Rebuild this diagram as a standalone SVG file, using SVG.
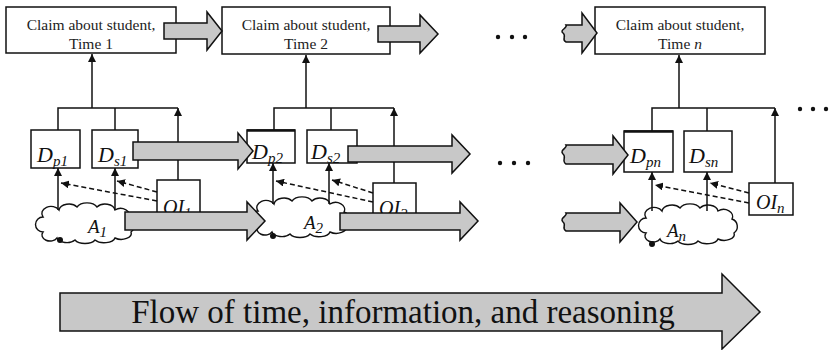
<svg xmlns="http://www.w3.org/2000/svg" width="830" height="350" viewBox="0 0 830 350">
<style>
.box{fill:#fff;stroke:#111;stroke-width:1.5}
.cl{font-family:'Liberation Serif','Times New Roman',Tinos,'DejaVu Serif','Noto Serif',serif;font-size:15.5px;fill:#222;text-anchor:middle}
.d{font-family:'Liberation Serif','Times New Roman',Tinos,'DejaVu Serif','Noto Serif',serif;font-style:italic;font-size:22px;fill:#111}
.sub{font-size:15px}
.oi{font-family:'Liberation Serif','Times New Roman',Tinos,'DejaVu Serif','Noto Serif',serif;font-style:italic;font-size:20px;fill:#111}
.a{font-family:'Liberation Serif','Times New Roman',Tinos,'DejaVu Serif','Noto Serif',serif;font-style:italic;font-size:19px;fill:#111}
.cloud{fill:#fff;stroke:#111;stroke-width:1.4}
.ln{fill:none;stroke:#111;stroke-width:1.5}
.dash{fill:none;stroke:#111;stroke-width:1.5;stroke-dasharray:5 3}
.blk{fill:#c8c8c8;stroke:#111;stroke-width:1.5;stroke-linejoin:miter}
.dot{fill:#111}
.flow{font-family:'Liberation Serif','Times New Roman',Tinos,'DejaVu Serif','Noto Serif',serif;font-size:33px;fill:#111;text-anchor:middle}
</style>
<defs>
<marker id="ah" viewBox="0 0 10 10" refX="10" refY="5" markerWidth="8" markerHeight="8" markerUnits="userSpaceOnUse" orient="auto"><path d="M0,0L10,5L0,10z" fill="#111"/></marker>
<path id="cloudp" d="M10 12 a9 7 0 0 1 16 -7 a10 7 0 0 1 18 -3 a11 7 0 0 1 20 0 a10 7 0 0 1 18 3 a9 7 0 0 1 14 8 a8 8 0 0 1 2 14 a10 6 0 0 1 -16 6 a11 6 0 0 1 -20 2 a11 6 0 0 1 -20 0 a10 6 0 0 1 -18 -2 a8 6 0 0 1 -14 -6 a7 7 0 0 1 0 -15 z"/>
</defs>

<g id="claim1"><rect class="box" x="6" y="7" width="170" height="46"/><text class="cl" x="91" y="30">Claim about student,</text><text class="cl" x="91" y="49">Time 1</text></g>
<g id="claim2"><rect class="box" x="222" y="7" width="168" height="47"/><text class="cl" x="306" y="30">Claim about student,</text><text class="cl" x="306" y="49">Time 2</text></g>
<g id="claimn"><rect class="box" x="595" y="7" width="170" height="47"/><text class="cl" x="680" y="30">Claim about student,</text><text class="cl" x="680" y="49">Time <tspan font-style="italic">n</tspan></text></g>

<g id="dp1"><rect class="box" x="31" y="130" width="49" height="38"/><text class="d" x="37" y="162">D<tspan class="sub" dy="4">p1</tspan></text></g>
<g id="ds1"><rect class="box" x="92" y="130" width="46" height="38"/><text class="d" x="98" y="162">D<tspan class="sub" dy="4">s1</tspan></text></g>
<g id="oi1"><rect class="box" x="157" y="180" width="43" height="40"/><text class="oi" x="163" y="214">OI<tspan class="sub" dy="4">1</tspan></text></g>
<g id="a1"><use href="#cloudp" class="cloud" transform="translate(33,205)"/><text class="a" x="88" y="233">A<tspan class="sub" dy="4">1</tspan></text><circle class="dot" cx="60" cy="240" r="3"/></g>

<g id="dp2"><rect class="box" x="247" y="130" width="48" height="33"/><line x1="247" y1="130.5" x2="295" y2="130.5" stroke="#111" stroke-width="2.5"/><text class="d" x="252" y="159">D<tspan class="sub" dy="4">p2</tspan></text></g>
<g id="ds2"><rect class="box" x="307" y="130" width="50" height="33"/><text class="d" x="311" y="159">D<tspan class="sub" dy="4">s2</tspan></text></g>
<g id="oi2"><rect class="box" x="373" y="183" width="43" height="37"/><text class="oi" x="379" y="215">OI<tspan class="sub" dy="4">2</tspan></text></g>
<g id="a2"><use href="#cloudp" class="cloud" transform="translate(248,199)"/><text class="a" x="304" y="229">A<tspan class="sub" dy="4">2</tspan></text><circle class="dot" cx="273" cy="236" r="3"/></g>

<g id="dpn"><rect class="box" x="624" y="131" width="49" height="41"/><line x1="624" y1="131.5" x2="673" y2="131.5" stroke="#111" stroke-width="2.5"/><text class="d" x="630" y="163">D<tspan class="sub" dy="4">pn</tspan></text></g>
<g id="dsn"><rect class="box" x="684" y="131" width="48" height="41"/><text class="d" x="689" y="163">D<tspan class="sub" dy="4">sn</tspan></text></g>
<g id="oin"><rect class="box" x="749" y="183" width="44" height="32"/><text class="oi" x="756" y="209">OI<tspan class="sub" dy="4">n</tspan></text></g>
<g id="an"><use href="#cloudp" class="cloud" transform="translate(636,206)"/><text class="a" x="667" y="237">A<tspan class="sub" dy="4">n</tspan></text><circle class="dot" cx="652" cy="244" r="3"/></g>

<g id="ellipses">
<circle class="dot" cx="498" cy="37" r="2.2"/><circle class="dot" cx="512" cy="37" r="2.2"/><circle class="dot" cx="525" cy="37" r="2.2"/>
<circle class="dot" cx="500" cy="163" r="2.2"/><circle class="dot" cx="514" cy="163" r="2.2"/><circle class="dot" cx="528" cy="163" r="2.2"/>
<circle class="dot" cx="800" cy="109" r="2.2"/><circle class="dot" cx="813" cy="109" r="2.2"/><circle class="dot" cx="826" cy="109" r="2.2"/>
</g>

<g id="connectors">
<line class="ln" x1="92" y1="108" x2="92" y2="54" marker-end="url(#ah)"/>
<polyline class="ln" points="58,130 58,108 178,108"/>
<line class="ln" x1="115" y1="108" x2="115" y2="130"/>
<line class="ln" x1="178" y1="180" x2="178" y2="108" marker-end="url(#ah)"/>
<line class="ln" x1="58" y1="210" x2="58" y2="168" marker-end="url(#ah)"/>
<line class="ln" x1="115" y1="210" x2="115" y2="168" marker-end="url(#ah)"/>
<line class="dash" x1="157" y1="192" x2="117" y2="181" marker-end="url(#ah)"/>
<line class="dash" x1="157" y1="201" x2="61" y2="183" marker-end="url(#ah)"/>

<line class="ln" x1="306" y1="108" x2="306" y2="55" marker-end="url(#ah)"/>
<polyline class="ln" points="274,130 274,108 394,108"/>
<line class="ln" x1="331" y1="108" x2="331" y2="130"/>
<line class="ln" x1="394" y1="183" x2="394" y2="108" marker-end="url(#ah)"/>
<line class="ln" x1="273" y1="204" x2="273" y2="163" marker-end="url(#ah)"/>
<line class="ln" x1="329" y1="204" x2="329" y2="163" marker-end="url(#ah)"/>
<line class="dash" x1="373" y1="193" x2="332" y2="180" marker-end="url(#ah)"/>
<line class="dash" x1="373" y1="202" x2="276" y2="181" marker-end="url(#ah)"/>

<line class="ln" x1="679" y1="108" x2="679" y2="55" marker-end="url(#ah)"/>
<polyline class="ln" points="652,131 652,108 775,108"/>
<line class="ln" x1="707" y1="108" x2="707" y2="131"/>
<line class="ln" x1="775" y1="183" x2="775" y2="108" marker-end="url(#ah)"/>
<line class="ln" x1="652" y1="211" x2="652" y2="172" marker-end="url(#ah)"/>
<line class="ln" x1="707" y1="211" x2="707" y2="172" marker-end="url(#ah)"/>
<line class="dash" x1="749" y1="193" x2="710" y2="183" marker-end="url(#ah)"/>
<line class="dash" x1="749" y1="203" x2="655" y2="185" marker-end="url(#ah)"/>

<polygon class="blk" points="164,23 207,23 207,12 222,31 207,50 207,39 164,39"/>
<polygon class="blk" points="378,26 420,26 420,15 438,34 420,53 420,42 378,42"/>
<path class="blk" d="M566,25 L582,25 L582,13 L597,33 L582,53 L582,42 L566,42 C561,40 567,36 563,33 C559,30 568,28 566,25 Z"/>

<polygon class="blk" points="133,142 238,142 238,133 253,151 238,169 238,160 133,160"/>
<polygon class="blk" points="348,146 452,146 452,135 470,154 452,173 452,162 348,162"/>
<path class="blk" d="M566,145 L613,145 L613,136 L628,155 L613,174 L613,164 L566,164 C561,161 567,157 563,154 C559,150 568,148 566,145 Z"/>

<polygon class="blk" points="125,212 247,212 247,202 265,221 247,240 247,230 125,230"/>
<polygon class="blk" points="340,213 460,213 460,202 478,221 460,240 460,230 340,230"/>
<path class="blk" d="M566,213 L620,213 L620,203 L637,222 L620,242 L620,231 L566,231 C561,228 567,225 563,222 C559,218 568,216 566,213 Z"/>
</g>

<g id="flow">
<polygon class="blk" points="60,293 722,293 722,274 760,312 722,349 722,331 60,331"/>
<text class="flow" x="403" y="323">Flow of time, information, and reasoning</text>
</g>
</svg>
